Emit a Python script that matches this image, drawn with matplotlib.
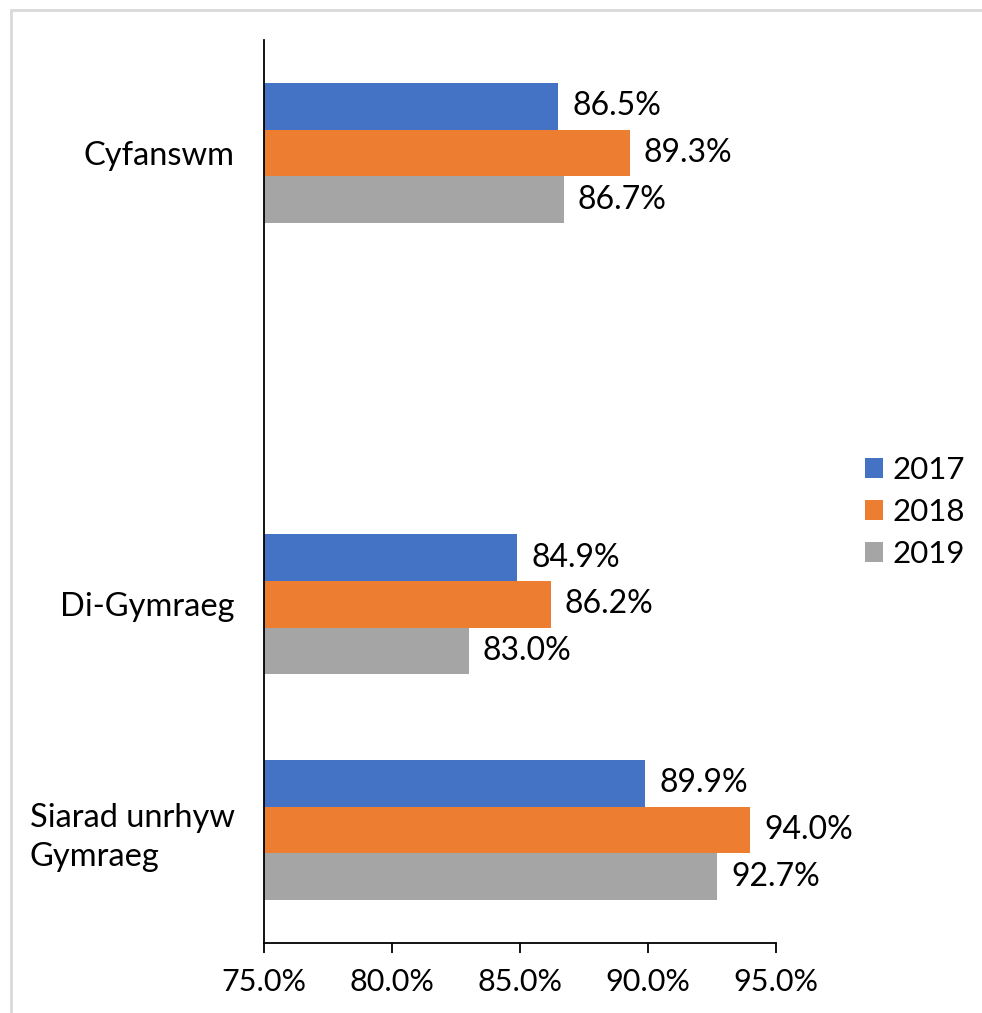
import numpy as np
import matplotlib.pyplot as plt
from matplotlib.patches import Rectangle

plt.rcParams['font.family'] = ['Lato', 'DejaVu Sans']

categories = ["Siarad unrhyw\nGymraeg", "Di-Gymraeg", "", "Cyfanswm"]
years = ["2017", "2018", "2019"]
vals_2017 = [89.9, 84.9, np.nan, 86.5]
vals_2018 = [94.0, 86.2, np.nan, 89.3]
vals_2019 = [92.7, 83.0, np.nan, 86.7]
colors = ["#4472C4", "#ED7D31", "#A5A5A5"]

fig = plt.figure(figsize=(9.82, 10.13), dpi=100)
ax = fig.add_axes([264 / 982, 1 - 943 / 1013, (776 - 264) / 982, (943 - 40) / 1013])

# light grey frame round the chart
fig.patches.append(Rectangle((11 / 982, -0.01), 1.0, 1 - 10 / 1013 + 0.01,
                             transform=fig.transFigure, fill=False,
                             edgecolor="#d9d9d9", linewidth=2))

y = np.arange(len(categories))
h = 0.207
series = [vals_2017, vals_2018, vals_2019]
for i, (vals, yr, c) in enumerate(zip(series, years, colors)):
    bars = ax.barh(y + (1 - i) * h, vals, height=h, color=c, label=yr)
    labels = ["" if np.isnan(v) else f"{v:.1f}%" for v in vals]
    ax.bar_label(bars, labels=labels, padding=10, fontsize=23)

ax.set_xlim(75, 95)
ax.set_ylim(-0.5, 3.5)
ax.set_xticks([75, 80, 85, 90, 95])
ax.set_xticklabels([f"{t:.1f}%" for t in [75, 80, 85, 90, 95]], fontsize=22)
ax.set_yticks(y)
ax.set_yticklabels(categories, fontsize=23.5, ha="right", multialignment="left",
                   linespacing=1.35)
ax.tick_params(axis="y", length=0, pad=21)
ax.tick_params(axis="x", length=7, width=1.3, pad=11)

for s in ["top", "right"]:
    ax.spines[s].set_visible(False)
ax.spines["left"].set_linewidth(1.3)
ax.spines["bottom"].set_linewidth(1.3)

fig.legend(loc="center left", bbox_to_anchor=(865 / 982, 1 - 512 / 1013),
           frameon=False, fontsize=22.5, handlelength=0.58, handleheight=0.58,
           handletextpad=0.3, labelspacing=0.45, borderpad=0, borderaxespad=0)

fig.savefig("out.png", dpi=100)
